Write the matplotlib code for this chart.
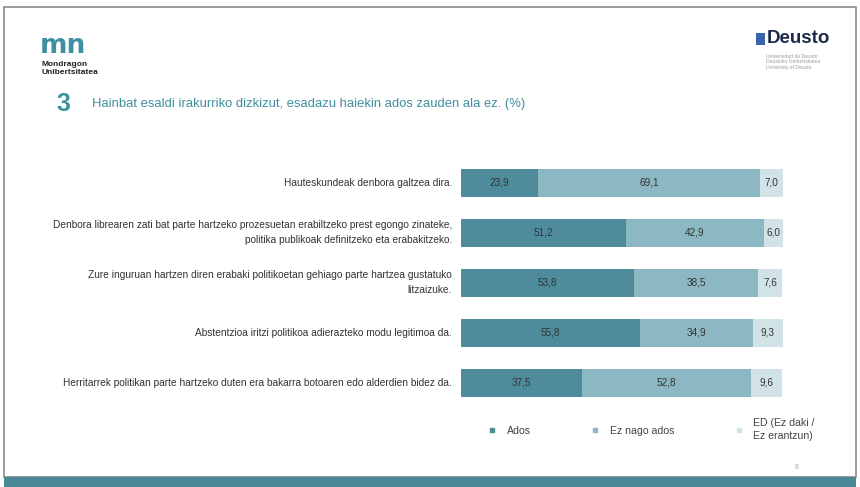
import numpy as np
import matplotlib.pyplot as plt
from matplotlib.patches import Rectangle
from matplotlib.lines import Line2D

plt.rcParams['font.family'] = ['Liberation Sans', 'DejaVu Sans']

statements = [
    "Hauteskundeak denbora galtzea dira.",
    "Denbora librearen zati bat parte hartzeko prozesuetan erabiltzeko prest egongo zinateke,\npolitika publikoak definitzeko eta erabakitzeko.",
    "Zure inguruan hartzen diren erabaki politikoetan gehiago parte hartzea gustatuko\nlitzaizuke.",
    "Abstentzioa iritzi politikoa adierazteko modu legitimoa da.",
    "Herritarrek politikan parte hartzeko duten era bakarra botoaren edo alderdien bidez da.",
]
ados = [23.9, 51.2, 53.8, 55.8, 37.5]
ez_ados = [69.1, 42.9, 38.5, 34.9, 52.8]
ed = [7.0, 6.0, 7.6, 9.3, 9.6]
series_names = ["Ados", "Ez nago ados", "ED (Ez daki /\nEz erantzun)"]
colors = ["#4f8c9b", "#8bb8c3", "#d2e3e8"]

fig = plt.figure(figsize=(8.6, 4.87), dpi=100)

# slide frame and footer strip
fig.patches.append(Rectangle((0.005, 0.02), 0.99, 0.965, transform=fig.transFigure,
                             fill=False, edgecolor="#8a8a8a", linewidth=1.2))
fig.patches.append(Rectangle((0.005, 0.0), 0.99, 0.02, transform=fig.transFigure,
                             facecolor="#4a8797", edgecolor="none"))

# logos (approximate)
fig.text(0.046, 0.905, "mn", color="#3f8fa0", fontsize=19, fontweight="bold",
         family="DejaVu Sans", va="center")
fig.text(0.048, 0.86, "Mondragon\nUnibertsitatea", color="#222222", fontsize=6,
         fontweight="bold", va="center", linespacing=1.25)
fig.patches.append(Rectangle((0.879, 0.907), 0.01, 0.026, transform=fig.transFigure,
                             facecolor="#3b63b0", edgecolor="none"))
fig.text(0.891, 0.92, "Deusto", color="#1d2a4a", fontsize=13.5, fontweight="bold", va="center")
fig.text(0.891, 0.873, "Universidad de Deusto\nDeustuko Unibertsitatea\nUniversity of Deusto",
         color="#9a9a9a", fontsize=3.6, va="center", linespacing=1.1)

# title
fig.text(0.066, 0.787, "3", color="#3f8fa0", fontsize=18, fontweight="bold", va="center")
fig.text(0.107, 0.787, "Hainbat esaldi irakurriko dizkizut, esadazu haiekin ados zauden ala ez. (%)",
         color="#3f8fa0", fontsize=9.4, va="center")
fig.text(0.924, 0.04, "8", color="#b0b0b0", fontsize=5, va="center")

ax = fig.add_axes([0.536, 0.168, 0.374, 0.503])
y = np.arange(len(statements))
left = np.zeros(len(statements))
for vals, col in zip([ados, ez_ados, ed], colors):
    bars = ax.barh(y, vals, left=left, height=0.56, color=col, edgecolor="none")
    for b, v in zip(bars, vals):
        ax.text(b.get_x() + b.get_width() / 2, b.get_y() + b.get_height() / 2,
                f"{v:.1f}".replace(".", ","), ha="center", va="center",
                fontsize=7.2, color="#333333")
    left += np.array(vals)

ax.set_xlim(0, 100)
ax.set_ylim(4.45, -0.45)
ax.axis("off")

for yi, s in zip(y, statements):
    ax.text(-2.8, yi, s, ha="right", va="center", fontsize=7.3, color="#333333",
            linespacing=1.6)

handles = [Line2D([0], [0], marker="s", linestyle="none", markersize=3,
                  markerfacecolor=c, markeredgecolor=c) for c in colors]
leg = ax.legend(handles, series_names, loc="upper left", bbox_to_anchor=(0.05, -0.015),
                ncol=3, frameon=False, fontsize=7.6, handlelength=1.0,
                columnspacing=5.6, handletextpad=0.9)
for t in leg.get_texts():
    t.set_color("#444444")
    t.set_linespacing(1.3)

fig.savefig("out.png", dpi=100)
